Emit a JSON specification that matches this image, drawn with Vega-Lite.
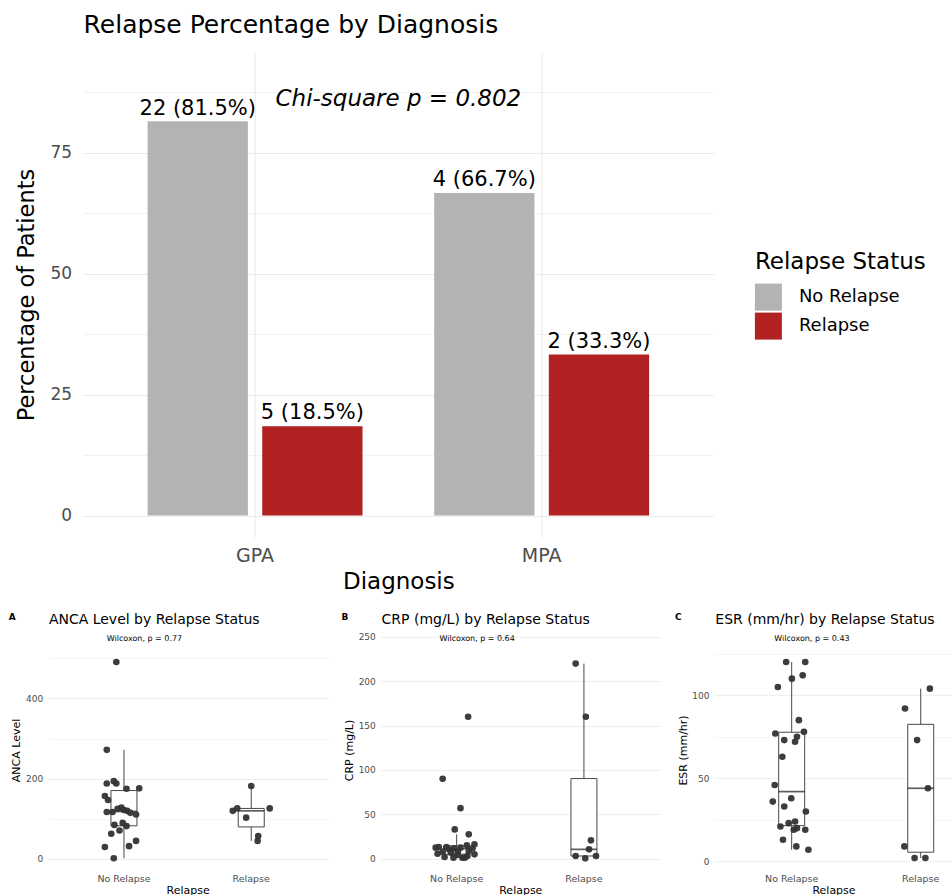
{
  "$schema": "https://vega.github.io/schema/vega-lite/v6.json",
  "background": "white",
  "padding": {"left": 8.6, "top": 13, "right": 0, "bottom": 0},
  "autosize": {"type": "pad"},
  "config": {
    "font": "DejaVu Sans",
    "view": {"stroke": null},
    "axis": {
      "domain": false,
      "ticks": false,
      "tickSize": 0,
      "gridColor": "#ebebeb",
      "labelColor": "#4d4d4d",
      "titleColor": "#000000",
      "titleFontWeight": "normal",
      "labelFlush": false,
      "labelOverlap": false
    },
    "title": {"color": "#000000", "fontWeight": "normal"}
  },
  "datasets": {
    "relapse": [
      {"diagnosis": "GPA", "status": "No Relapse", "count": 22, "pct": 81.5, "label": "22 (81.5%)"},
      {"diagnosis": "GPA", "status": "Relapse", "count": 5, "pct": 18.5, "label": "5 (18.5%)"},
      {"diagnosis": "MPA", "status": "No Relapse", "count": 4, "pct": 66.7, "label": "4 (66.7%)"},
      {"diagnosis": "MPA", "status": "Relapse", "count": 2, "pct": 33.3, "label": "2 (33.3%)"}
    ],
    "anca": [
      {"relapse": "No Relapse", "value": 491, "jitter": -0.12},
      {"relapse": "No Relapse", "value": 272, "jitter": -0.27},
      {"relapse": "No Relapse", "value": 188, "jitter": -0.27},
      {"relapse": "No Relapse", "value": 194, "jitter": -0.16},
      {"relapse": "No Relapse", "value": 188, "jitter": -0.12},
      {"relapse": "No Relapse", "value": 175, "jitter": 0.04},
      {"relapse": "No Relapse", "value": 176, "jitter": 0.24},
      {"relapse": "No Relapse", "value": 157, "jitter": -0.30},
      {"relapse": "No Relapse", "value": 147, "jitter": -0.25},
      {"relapse": "No Relapse", "value": 128, "jitter": -0.04},
      {"relapse": "No Relapse", "value": 117, "jitter": -0.27},
      {"relapse": "No Relapse", "value": 117, "jitter": -0.18},
      {"relapse": "No Relapse", "value": 122, "jitter": 0.0},
      {"relapse": "No Relapse", "value": 120, "jitter": 0.05},
      {"relapse": "No Relapse", "value": 111, "jitter": 0.19},
      {"relapse": "No Relapse", "value": 85, "jitter": -0.15},
      {"relapse": "No Relapse", "value": 82, "jitter": 0.04},
      {"relapse": "No Relapse", "value": 71, "jitter": -0.07},
      {"relapse": "No Relapse", "value": 63, "jitter": -0.20},
      {"relapse": "No Relapse", "value": 30, "jitter": -0.30},
      {"relapse": "No Relapse", "value": 32, "jitter": 0.08},
      {"relapse": "No Relapse", "value": 45, "jitter": 0.19},
      {"relapse": "No Relapse", "value": 2, "jitter": -0.16},
      {"relapse": "No Relapse", "value": 90, "jitter": -0.02},
      {"relapse": "No Relapse", "value": 115, "jitter": 0.10},
      {"relapse": "No Relapse", "value": 125, "jitter": -0.10},
      {"relapse": "Relapse", "value": 182, "jitter": 0.0},
      {"relapse": "Relapse", "value": 120, "jitter": -0.29},
      {"relapse": "Relapse", "value": 126, "jitter": -0.22},
      {"relapse": "Relapse", "value": 126, "jitter": 0.29},
      {"relapse": "Relapse", "value": 103, "jitter": -0.08},
      {"relapse": "Relapse", "value": 57, "jitter": 0.11},
      {"relapse": "Relapse", "value": 45, "jitter": 0.10}
    ],
    "crp": [
      {"relapse": "No Relapse", "value": 160, "jitter": 0.18},
      {"relapse": "No Relapse", "value": 90, "jitter": -0.22},
      {"relapse": "No Relapse", "value": 57, "jitter": 0.06},
      {"relapse": "No Relapse", "value": 33, "jitter": -0.03},
      {"relapse": "No Relapse", "value": 27.4, "jitter": 0.19},
      {"relapse": "No Relapse", "value": 13.2, "jitter": -0.28},
      {"relapse": "No Relapse", "value": 13.2, "jitter": -0.16},
      {"relapse": "No Relapse", "value": 11.7, "jitter": -0.04},
      {"relapse": "No Relapse", "value": 12.4, "jitter": 0.06},
      {"relapse": "No Relapse", "value": 15, "jitter": 0.16},
      {"relapse": "No Relapse", "value": 16.2, "jitter": 0.28},
      {"relapse": "No Relapse", "value": 7.9, "jitter": -0.22},
      {"relapse": "No Relapse", "value": 6.8, "jitter": -0.09},
      {"relapse": "No Relapse", "value": 7.9, "jitter": 0.02},
      {"relapse": "No Relapse", "value": 8.6, "jitter": 0.19},
      {"relapse": "No Relapse", "value": 4.9, "jitter": 0.28},
      {"relapse": "No Relapse", "value": 1.9, "jitter": -0.19},
      {"relapse": "No Relapse", "value": 1.1, "jitter": -0.05},
      {"relapse": "No Relapse", "value": 1.1, "jitter": 0.09},
      {"relapse": "No Relapse", "value": 1.1, "jitter": 0.13},
      {"relapse": "No Relapse", "value": 12.4, "jitter": -0.33},
      {"relapse": "No Relapse", "value": 10.5, "jitter": -0.12},
      {"relapse": "No Relapse", "value": 11.7, "jitter": 0.25},
      {"relapse": "No Relapse", "value": 4.1, "jitter": 0.01},
      {"relapse": "No Relapse", "value": 5.5, "jitter": -0.30},
      {"relapse": "No Relapse", "value": 3, "jitter": 0.17},
      {"relapse": "Relapse", "value": 220, "jitter": -0.13},
      {"relapse": "Relapse", "value": 160, "jitter": 0.03},
      {"relapse": "Relapse", "value": 20.7, "jitter": 0.11},
      {"relapse": "Relapse", "value": 3, "jitter": -0.13},
      {"relapse": "Relapse", "value": 0.4, "jitter": 0.02},
      {"relapse": "Relapse", "value": 3, "jitter": 0.19},
      {"relapse": "Relapse", "value": 10.5, "jitter": 0.08}
    ],
    "esr": [
      {"relapse": "No Relapse", "value": 120, "jitter": -0.08},
      {"relapse": "No Relapse", "value": 120, "jitter": 0.22},
      {"relapse": "No Relapse", "value": 110, "jitter": 0.01},
      {"relapse": "No Relapse", "value": 112, "jitter": 0.18},
      {"relapse": "No Relapse", "value": 105, "jitter": -0.21},
      {"relapse": "No Relapse", "value": 85, "jitter": 0.12},
      {"relapse": "No Relapse", "value": 77, "jitter": -0.25},
      {"relapse": "No Relapse", "value": 73, "jitter": -0.11},
      {"relapse": "No Relapse", "value": 72, "jitter": 0.06},
      {"relapse": "No Relapse", "value": 75, "jitter": 0.09},
      {"relapse": "No Relapse", "value": 78, "jitter": 0.20},
      {"relapse": "No Relapse", "value": 63, "jitter": -0.14},
      {"relapse": "No Relapse", "value": 46, "jitter": -0.26},
      {"relapse": "No Relapse", "value": 36, "jitter": -0.29},
      {"relapse": "No Relapse", "value": 38, "jitter": 0.0},
      {"relapse": "No Relapse", "value": 33, "jitter": -0.11},
      {"relapse": "No Relapse", "value": 30, "jitter": 0.23},
      {"relapse": "No Relapse", "value": 21, "jitter": -0.17},
      {"relapse": "No Relapse", "value": 23, "jitter": -0.04},
      {"relapse": "No Relapse", "value": 24, "jitter": 0.06},
      {"relapse": "No Relapse", "value": 19, "jitter": 0.04},
      {"relapse": "No Relapse", "value": 20, "jitter": 0.09},
      {"relapse": "No Relapse", "value": 19, "jitter": 0.22},
      {"relapse": "No Relapse", "value": 13, "jitter": -0.13},
      {"relapse": "No Relapse", "value": 9, "jitter": 0.08},
      {"relapse": "No Relapse", "value": 7, "jitter": 0.27},
      {"relapse": "Relapse", "value": 104, "jitter": 0.15},
      {"relapse": "Relapse", "value": 92, "jitter": -0.24},
      {"relapse": "Relapse", "value": 73, "jitter": -0.05},
      {"relapse": "Relapse", "value": 44, "jitter": 0.12},
      {"relapse": "Relapse", "value": 9, "jitter": -0.25},
      {"relapse": "Relapse", "value": 2, "jitter": -0.09},
      {"relapse": "Relapse", "value": 2, "jitter": 0.08}
    ]
  },
  "spacing": 19,
  "vconcat": [
    {
      "width": 666,
      "height": 485,
      "title": {
        "text": "Relapse Percentage by Diagnosis",
        "anchor": "start",
        "frame": "group",
        "fontSize": 25,
        "dx": 36,
        "offset": 13.7
      },
      "data": {"name": "relapse"},
      "layer": [
        {
          "mark": {"type": "bar"},
          "encoding": {
            "x": {
              "field": "diagnosis",
              "type": "nominal",
              "title": "Diagnosis",
              "scale": {"range": [35.5, 666], "paddingInner": 0.2, "paddingOuter": 0.2},
              "axis": {
                "labelAngle": 0,
                "grid": true,
                "bandPosition": 0.5,
                "gridWidth": 1.2,
                "labelFontSize": 19,
                "labelPadding": 9.9,
                "titleFontSize": 23,
                "titlePadding": 4.4
              }
            },
            "xOffset": {
              "field": "status",
              "type": "nominal",
              "scale": {"paddingInner": 0.125, "paddingOuter": 0.0625}
            },
            "y": {
              "field": "pct",
              "type": "quantitative",
              "title": "Percentage of Patients",
              "scale": {"domain": [-4.42, 95.84], "nice": false, "zero": false},
              "axis": {
                "offset": -35.5,
                "values": [0, 12.5, 25, 37.5, 50, 62.5, 75, 87.5],
                "labelExpr": "datum.value % 25 === 0 ? datum.label : ''",
                "gridWidth": {"condition": {"test": "datum.value % 25 === 0", "value": 1.2}, "value": 0.7},
                "labelFontSize": 17,
                "labelPadding": 11.5,
                "titleFontSize": 22.5,
                "titlePadding": 11.9
              }
            },
            "color": {
              "field": "status",
              "type": "nominal",
              "scale": {"domain": ["No Relapse", "Relapse"], "range": ["#b3b3b3", "#b22222"]},
              "legend": {
                "title": "Relapse Status",
                "orient": "none",
                "legendX": 707.3,
                "legendY": 198.6,
                "padding": 0,
                "titleFontSize": 23,
                "titleFontWeight": "normal",
                "titleColor": "#000000",
                "titlePadding": 10,
                "titleLimit": 400,
                "labelFontSize": 18,
                "labelColor": "#000000",
                "labelOffset": 17,
                "symbolType": "square",
                "symbolSize": 729,
                "symbolStrokeWidth": 0,
                "symbolOpacity": 1,
                "rowPadding": 2
              }
            }
          }
        },
        {
          "mark": {"type": "text", "fontSize": 21, "baseline": "alphabetic", "dy": -6.7, "color": "#000000"},
          "encoding": {
            "x": {"field": "diagnosis", "type": "nominal"},
            "xOffset": {"field": "status", "type": "nominal"},
            "y": {"field": "pct", "type": "quantitative"},
            "text": {"field": "label"}
          }
        },
        {
          "data": {"values": [{"note": "Chi-square p = 0.802"}]},
          "mark": {"type": "text", "fontSize": 23, "fontStyle": "italic", "baseline": "alphabetic", "color": "#000000"},
          "encoding": {
            "x": {"datum": "GPA", "type": "nominal", "bandPosition": 1.125},
            "y": {"datum": 84.7, "type": "quantitative"},
            "text": {"field": "note"}
          }
        }
      ]
    },
    {
      "spacing": 13.7,
      "hconcat": [
        {
          "width": 280,
          "height": 242,
          "title": {"text": "ANCA Level by Relapse Status", "anchor": "start", "frame": "group", "fontSize": 14, "dx": 1.3, "offset": -14},
          "data": {"name": "anca"},
          "layer": [
            {
              "mark": {
                "type": "boxplot",
                "extent": 1.5,
                "size": 26,
                "outliers": false,
                "ticks": false,
                "box": {"color": "#ffffff", "stroke": "#333333", "strokeWidth": 0.9},
                "median": {"color": "#1a1a1a", "thickness": 1.7},
                "rule": {"color": "#333333", "strokeWidth": 0.9}
              },
              "encoding": {
                "x": {
                  "field": "relapse",
                  "type": "nominal",
                  "title": "Relapse",
                  "scale": {"domain": ["No Relapse", "Relapse"], "paddingInner": 0.5, "paddingOuter": 0.35},
                  "axis": {"labelAngle": 0, "grid": false, "labelFontSize": 9.5, "labelPadding": 2.7, "titleFontSize": 11, "titlePadding": 1.1}
                },
                "y": {
                  "field": "value",
                  "type": "quantitative",
                  "title": "ANCA Level",
                  "scale": {"domain": [-29.9, 573.1], "nice": false, "zero": false},
                  "axis": {
                    "values": [0, 100, 200, 300, 400, 500],
                    "labelExpr": "datum.value % 200 === 0 ? datum.label : ''",
                    "gridWidth": {"condition": {"test": "datum.value % 200 === 0", "value": 0.8}, "value": 0.45},
                    "labelFontSize": 9,
                    "labelPadding": 5,
                    "titleFontSize": 11,
                    "titlePadding": 3.8
                  }
                }
              }
            },
            {
              "mark": {"type": "circle", "size": 44, "color": "#333333", "opacity": 0.95},
              "encoding": {
                "x": {"field": "relapse", "type": "nominal"},
                "xOffset": {"field": "jitter", "type": "quantitative", "scale": {"domain": [-0.5, 0.5]}},
                "y": {"field": "value", "type": "quantitative"}
              }
            },
            {
              "data": {"values": [{"note": "Wilcoxon, p = 0.77"}]},
              "mark": {"type": "text", "fontSize": 8, "align": "left", "baseline": "middle", "color": "#000000"},
              "encoding": {
                "x": {"datum": "No Relapse", "type": "nominal", "bandPosition": 0.23},
                "y": {"datum": 547, "type": "quantitative"},
                "text": {"field": "note"}
              }
            },
            {
              "data": {"values": [{"tag": "A"}]},
              "mark": {"type": "text", "fontSize": 9, "fontWeight": "bold", "align": "left", "baseline": "alphabetic", "color": "#000000"},
              "encoding": {
                "x": {"datum": "No Relapse", "type": "nominal", "bandPosition": -1.31},
                "y": {"datum": 594.8, "type": "quantitative"},
                "text": {"field": "tag"}
              }
            }
          ]
        },
        {
          "width": 280,
          "height": 242,
          "title": {"text": "CRP (mg/L) by Relapse Status", "anchor": "start", "frame": "group", "fontSize": 14, "dx": 1.3, "offset": -14},
          "data": {"name": "crp"},
          "layer": [
            {
              "mark": {
                "type": "boxplot",
                "extent": 1.5,
                "size": 26,
                "outliers": false,
                "ticks": false,
                "box": {"color": "#ffffff", "stroke": "#333333", "strokeWidth": 0.9},
                "median": {"color": "#1a1a1a", "thickness": 1.7},
                "rule": {"color": "#333333", "strokeWidth": 0.9}
              },
              "encoding": {
                "x": {
                  "field": "relapse",
                  "type": "nominal",
                  "title": "Relapse",
                  "scale": {"domain": ["No Relapse", "Relapse"], "paddingInner": 0.5, "paddingOuter": 0.35},
                  "axis": {"labelAngle": 0, "grid": false, "labelFontSize": 9.5, "labelPadding": 2.7, "titleFontSize": 11, "titlePadding": 1.1}
                },
                "y": {
                  "field": "value",
                  "type": "quantitative",
                  "title": "CRP (mg/L)",
                  "scale": {"domain": [-13.9, 259], "nice": false, "zero": false},
                  "axis": {
                    "values": [0, 25, 50, 75, 100, 125, 150, 175, 200, 225, 250],
                    "labelExpr": "datum.value % 50 === 0 ? datum.label : ''",
                    "gridWidth": {"condition": {"test": "datum.value % 50 === 0", "value": 0.8}, "value": 0.45},
                    "labelFontSize": 9,
                    "labelPadding": 5,
                    "titleFontSize": 11,
                    "titlePadding": 3.8
                  }
                }
              }
            },
            {
              "mark": {"type": "circle", "size": 44, "color": "#333333", "opacity": 0.95},
              "encoding": {
                "x": {"field": "relapse", "type": "nominal"},
                "xOffset": {"field": "jitter", "type": "quantitative", "scale": {"domain": [-0.5, 0.5]}},
                "y": {"field": "value", "type": "quantitative"}
              }
            },
            {
              "data": {"values": [{"note": "Wilcoxon, p = 0.64"}]},
              "mark": {"type": "text", "fontSize": 8, "align": "left", "baseline": "middle", "color": "#000000"},
              "encoding": {
                "x": {"datum": "No Relapse", "type": "nominal", "bandPosition": 0.23},
                "y": {"datum": 247.4, "type": "quantitative"},
                "text": {"field": "note"}
              }
            },
            {
              "data": {"values": [{"tag": "B"}]},
              "mark": {"type": "text", "fontSize": 9, "fontWeight": "bold", "align": "left", "baseline": "alphabetic", "color": "#000000"},
              "encoding": {
                "x": {"datum": "No Relapse", "type": "nominal", "bandPosition": -1.31},
                "y": {"datum": 268.9, "type": "quantitative"},
                "text": {"field": "tag"}
              }
            }
          ]
        },
        {
          "width": 239,
          "height": 242,
          "title": {"text": "ESR (mm/hr) by Relapse Status", "anchor": "start", "frame": "group", "fontSize": 14, "dx": 1.3, "offset": -14},
          "data": {"name": "esr"},
          "layer": [
            {
              "mark": {
                "type": "boxplot",
                "extent": 1.5,
                "size": 26,
                "outliers": false,
                "ticks": false,
                "box": {"color": "#ffffff", "stroke": "#333333", "strokeWidth": 0.9},
                "median": {"color": "#1a1a1a", "thickness": 1.7},
                "rule": {"color": "#333333", "strokeWidth": 0.9}
              },
              "encoding": {
                "x": {
                  "field": "relapse",
                  "type": "nominal",
                  "title": "Relapse",
                  "scale": {"domain": ["No Relapse", "Relapse"], "paddingInner": 0.5, "paddingOuter": 0.176, "align": 1},
                  "axis": {"labelAngle": 0, "grid": false, "labelFontSize": 9.5, "labelPadding": 2.7, "titleFontSize": 11, "titlePadding": 1.1}
                },
                "y": {
                  "field": "value",
                  "type": "quantitative",
                  "title": "ESR (mm/hr)",
                  "scale": {"domain": [-5.8, 139.9], "nice": false, "zero": false},
                  "axis": {
                    "values": [0, 25, 50, 75, 100, 125],
                    "labelExpr": "datum.value % 50 === 0 ? datum.label : ''",
                    "gridWidth": {"condition": {"test": "datum.value % 50 === 0", "value": 0.8}, "value": 0.45},
                    "labelFontSize": 9,
                    "labelPadding": 5,
                    "titleFontSize": 11,
                    "titlePadding": 3.8
                  }
                }
              }
            },
            {
              "mark": {"type": "circle", "size": 44, "color": "#333333", "opacity": 0.95},
              "encoding": {
                "x": {"field": "relapse", "type": "nominal"},
                "xOffset": {"field": "jitter", "type": "quantitative", "scale": {"domain": [-0.5, 0.5]}},
                "y": {"field": "value", "type": "quantitative"}
              }
            },
            {
              "data": {"values": [{"note": "Wilcoxon, p = 0.43"}]},
              "mark": {"type": "text", "fontSize": 8, "align": "left", "baseline": "middle", "color": "#000000"},
              "encoding": {
                "x": {"datum": "No Relapse", "type": "nominal", "bandPosition": 0.23},
                "y": {"datum": 133.7, "type": "quantitative"},
                "text": {"field": "note"}
              }
            },
            {
              "data": {"values": [{"tag": "C"}]},
              "mark": {"type": "text", "fontSize": 9, "fontWeight": "bold", "align": "left", "baseline": "alphabetic", "color": "#000000"},
              "encoding": {
                "x": {"datum": "No Relapse", "type": "nominal", "bandPosition": -1.31},
                "y": {"datum": 145.2, "type": "quantitative"},
                "text": {"field": "tag"}
              }
            }
          ]
        }
      ]
    }
  ]
}
